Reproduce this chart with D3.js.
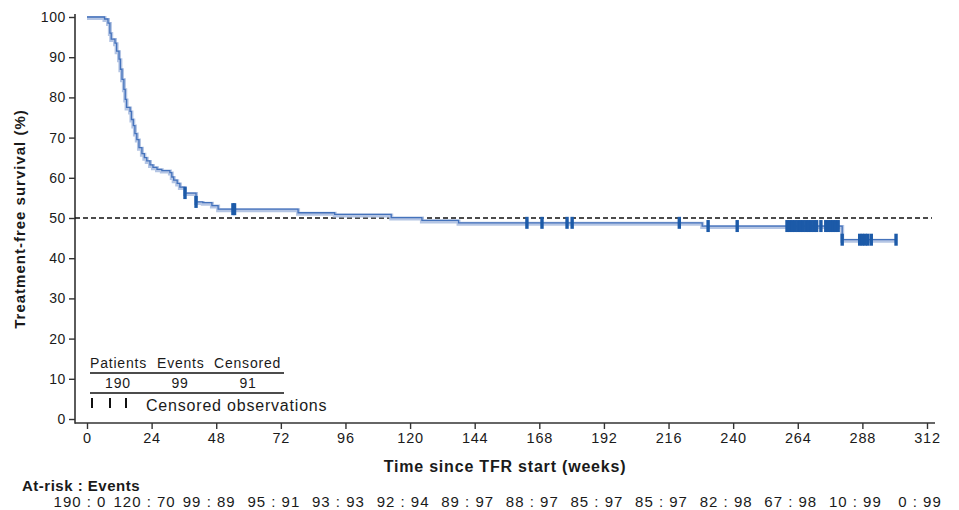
<html><head>
<title>Treatment-free survival</title>
<script src="https://d3js.org/d3.v7.min.js"></script>
<style>
  body { margin: 0; background: #fff; }
  svg text { font-family: "Liberation Sans", Arial, sans-serif; fill: #1a1a1a; }
  .axis text { font-size: 14px; letter-spacing: 0.6px; }
  .axis line { stroke: #333; stroke-width: 1.4; }
  .title { font-weight: bold; }
</style>
</head>
<body>
<svg id="km" width="959" height="510"></svg>
<script>

  // KM curve: survival (%) from each time (weeks) onward
  const stepTime = [0, 6.5, 7.8, 8.5, 9.0, 10.4, 11.0, 11.9, 12.4, 13.0, 13.7, 14.2, 14.7, 16.0, 16.5,
                    17.2, 17.8, 18.5, 19.3, 20.4, 21.3, 22.2, 23.4, 24.5, 26.0, 27.8, 30.8, 31.5, 32.2,
                    33.5, 34.5, 36.4, 40.5, 43.0, 46.4, 48.7, 78.4, 92.0, 113.0, 124.4, 138.0, 228.5,
                    280.5, 300.5];
  const stepSurv = [100, 99.5, 98.5, 96, 94.5, 93.5, 91.5, 89.5, 87, 84.5, 82, 79.5, 77.5, 76.5, 74.5,
                    73, 71, 69.5, 67.5, 66, 65, 64.2, 63.2, 62.6, 62.1, 61.8, 61.3, 60.2, 59.4,
                    58.6, 57.7, 56.2, 54.0, 53.8, 53.1, 52.2, 51.3, 50.9, 50.1, 49.4, 48.8, 48.0,
                    44.6, 44.6];

  // censored observations (weeks)
  const censorTime = [36.4, 40.5, 54.2, 54.8, 163.4, 169, 178.3, 180.2, 220, 230.7, 241.5,
                      260, 261, 262, 263, 264, 265, 266, 267, 268, 269, 270, 271, 272.6,
                      274.4, 275.3, 276.2, 277.1, 278, 279, 280.5,
                      287, 288, 289, 290, 291.3, 300.5];

  const xTicks = [0, 24, 48, 72, 96, 120, 144, 168, 192, 216, 240, 264, 288, 312];
  const yTicks = [0, 10, 20, 30, 40, 50, 60, 70, 80, 90, 100];
  const atRisk = [190, 120, 99, 95, 93, 92, 89, 88, 85, 85, 82, 67, 10, 0];
  const events = [0, 70, 89, 91, 93, 94, 97, 97, 97, 97, 98, 98, 99, 99];

  const legendHead = ["Patients", "Events", "Censored"];
  const legendVals = [190, 99, 91];

  const svg = d3.select("svg#km");

  const x = d3.scaleLinear().domain([0, 312]).range([87, 927]);
  const y = d3.scaleLinear().domain([0, 100]).range([419, 17]);

  const axisX = 75;    // left axis line
  const axisY = 423;   // bottom axis line

  // axes
  let leftAxis = d3.axisLeft(y).tickValues(yTicks).tickSize(6).tickPadding(3);
  svg.append("g").attr("class", "axis")
    .attr("transform", "translate(" + axisX + ",0)")
    .call(leftAxis)
    .call(g => g.select(".domain").remove());

  let bottomAxis = d3.axisBottom(x).tickValues(xTicks).tickSize(6).tickPadding(4);
  svg.append("g").attr("class", "axis")
    .attr("transform", "translate(0," + axisY + ")")
    .call(bottomAxis)
    .call(g => g.select(".domain").remove())
    .selectAll("text").style("font-size", "14.5px").style("letter-spacing", "0.8px");

  svg.append("line").attr("x1", axisX).attr("x2", axisX)
    .attr("y1", y(100) - 3).attr("y2", axisY + 0.7)
    .attr("stroke", "#333").attr("stroke-width", 1.6);
  svg.append("line").attr("x1", axisX).attr("x2", 935)
    .attr("y1", axisY).attr("y2", axisY)
    .attr("stroke", "#333").attr("stroke-width", 1.6);

  // 50% reference
  svg.append("line").attr("x1", axisX).attr("x2", 932)
    .attr("y1", y(50)).attr("y2", y(50))
    .attr("stroke", "#111").attr("stroke-width", 1.4).attr("stroke-dasharray", "5,3");

  // KM curve
  const steps = stepTime.map((t, i) => ({t: t, s: stepSurv[i]}));
  const line = d3.line().x(d => x(d.t)).y(d => y(d.s)).curve(d3.curveStepAfter);

  svg.append("path").datum(steps).attr("d", line)
    .attr("transform", "translate(0,1)")
    .attr("fill", "none").attr("stroke", "#b4c5e4").attr("stroke-width", 4);
  svg.append("path").datum(steps).attr("d", line)
    .attr("fill", "none").attr("stroke", "#4472bb").attr("stroke-width", 1.3);

  function survAt(t) {
    let s = stepSurv[0];
    stepTime.forEach((st, i) => { if (st <= t) s = stepSurv[i]; });
    return s;
  }

  svg.append("g").selectAll("rect").data(censorTime).join("rect")
    .attr("x", d => x(d) - 1.7)
    .attr("y", d => y(survAt(d)) - 6)
    .attr("width", 3.4).attr("height", 12)
    .attr("fill", "#1c5aa8");

  // axis titles
  svg.append("text").attr("class", "title")
    .attr("x", 505).attr("y", 472).attr("text-anchor", "middle")
    .style("font-size", "16px").style("letter-spacing", "0.8px")
    .text("Time since TFR start (weeks)");

  svg.append("text").attr("class", "title")
    .attr("transform", "translate(25," + 219 + ") rotate(-90)")
    .attr("text-anchor", "middle")
    .style("font-size", "15px").style("letter-spacing", "1px")
    .text("Treatment-free survival (%)");

  // at-risk table
  svg.append("text").attr("class", "title")
    .attr("x", 22).attr("y", 491)
    .style("font-size", "15px").style("letter-spacing", "0.5px")
    .text("At-risk : Events");

  svg.append("g").selectAll("text").data(xTicks).join("text")
    .attr("x", d => x(d) - 7).attr("y", 507)
    .attr("text-anchor", "middle")
    .style("font-size", "15px").style("letter-spacing", "1px")
    .text((d, i) => atRisk[i] + " : " + events[i]);

  // legend box
  let legend = svg.append("g");
  const headX = [90, 157, 214];
  const valX = [118, 180, 248];
  legendHead.forEach((h, i) => {
    legend.append("text").attr("x", headX[i]).attr("y", 368)
      .style("font-size", "14px").style("letter-spacing", "0.8px").text(h);
    legend.append("text").attr("x", valX[i]).attr("y", 388).attr("text-anchor", "middle")
      .style("font-size", "14px").style("letter-spacing", "0.8px").text(legendVals[i]);
  });
  [373, 393].forEach(ly => {
    legend.append("line").attr("x1", 90).attr("x2", 284).attr("y1", ly).attr("y2", ly)
      .attr("stroke", "#111").attr("stroke-width", 1.5);
  });
  [92, 110, 126].forEach(lx => {
    legend.append("line").attr("x1", lx).attr("x2", lx).attr("y1", 398).attr("y2", 408)
      .attr("stroke", "#111").attr("stroke-width", 2);
  });
  legend.append("text").attr("x", 146).attr("y", 411)
    .style("font-size", "16px").style("letter-spacing", "0.8px")
    .text("Censored observations");

</script>
</body>
</html>
